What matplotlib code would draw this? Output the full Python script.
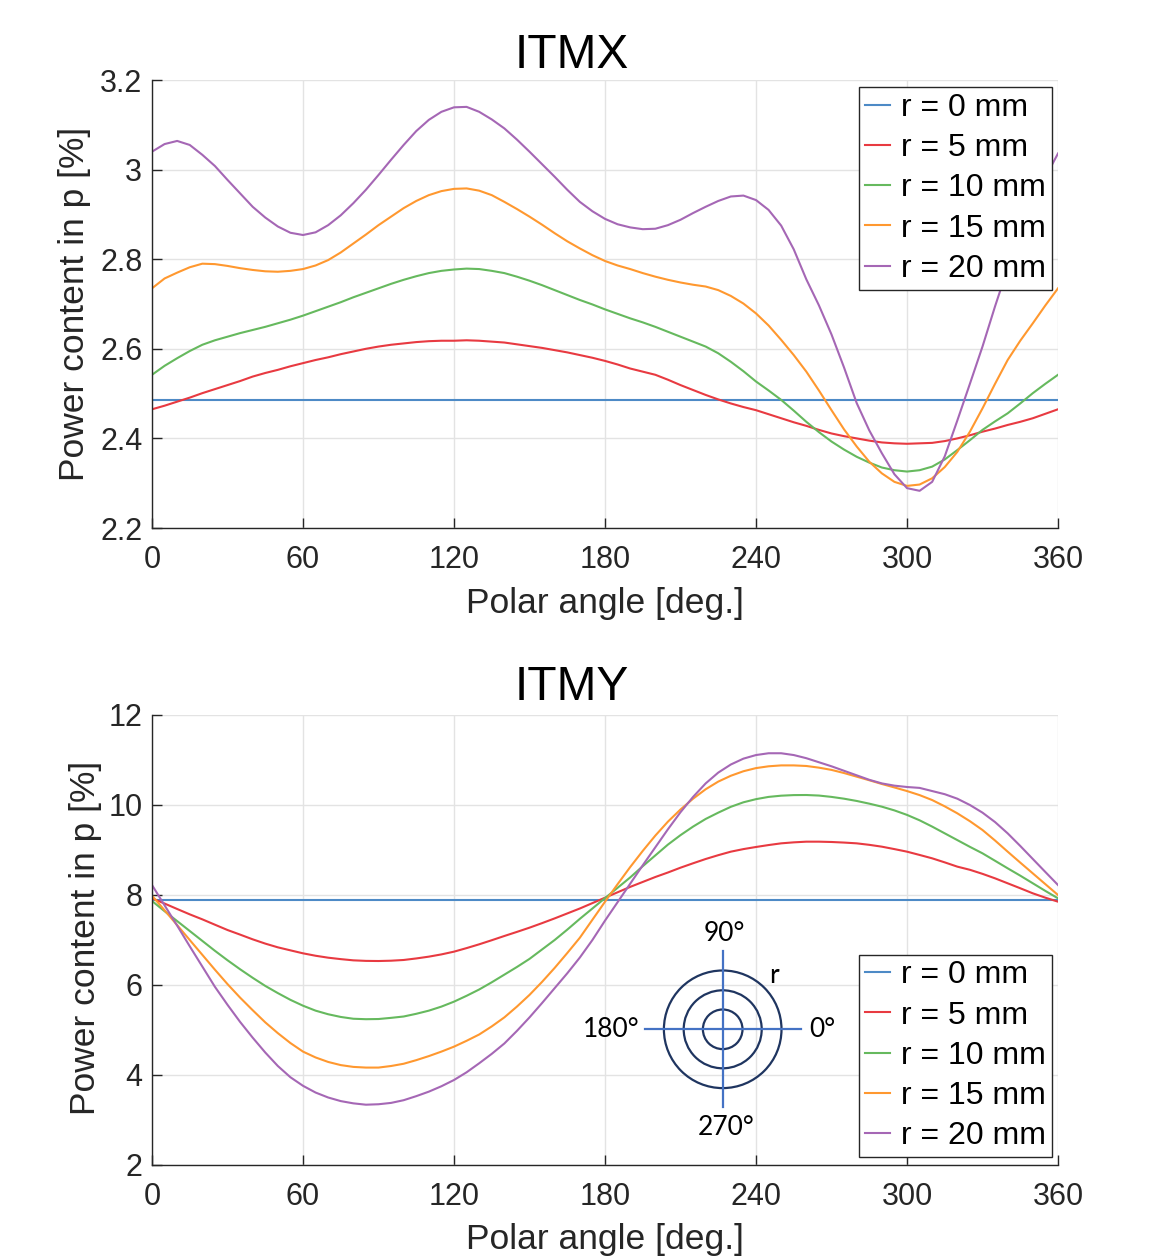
import matplotlib
matplotlib.use("Agg")
import matplotlib.pyplot as plt
from matplotlib.patches import Circle
from matplotlib.ticker import FuncFormatter

plt.rcParams['font.family'] = ['Liberation Sans', 'DejaVu Sans']

angles = list(range(0, 361, 5))
labels = ["r = 0 mm", "r = 5 mm", "r = 10 mm", "r = 15 mm", "r = 20 mm"]
colors = ['#4d8ac6', '#e83a41', '#66b95e', '#ff982f', '#a567b5']

# ITMX (values every 5 deg)
itmx_r0 = [2.486] * 73
itmx_r5 = [2.465, 2.473, 2.482, 2.491, 2.501, 2.510, 2.519, 2.528, 2.538, 2.546,
           2.553, 2.561, 2.568, 2.575, 2.581, 2.588, 2.594, 2.600, 2.605, 2.609,
           2.612, 2.615, 2.617, 2.618, 2.618, 2.619, 2.618, 2.616, 2.614, 2.610,
           2.606, 2.602, 2.597, 2.592, 2.586, 2.580, 2.573, 2.565, 2.556, 2.549,
           2.542, 2.531, 2.519, 2.508, 2.497, 2.487, 2.478, 2.470, 2.463, 2.454,
           2.445, 2.436, 2.428, 2.419, 2.411, 2.405, 2.400, 2.395, 2.391, 2.389,
           2.388, 2.389, 2.390, 2.394, 2.400, 2.407, 2.415, 2.422, 2.430, 2.437,
           2.445, 2.455, 2.465]
itmx_r10 = [2.542, 2.562, 2.579, 2.595, 2.609, 2.619, 2.627, 2.635, 2.642, 2.649,
            2.657, 2.665, 2.674, 2.684, 2.694, 2.704, 2.715, 2.725, 2.735, 2.745,
            2.754, 2.762, 2.769, 2.774, 2.777, 2.779, 2.778, 2.774, 2.769, 2.761,
            2.752, 2.742, 2.731, 2.720, 2.709, 2.699, 2.688, 2.678, 2.668, 2.659,
            2.649, 2.638, 2.627, 2.616, 2.605, 2.590, 2.571, 2.550, 2.527, 2.507,
            2.486, 2.462, 2.437, 2.414, 2.393, 2.375, 2.359, 2.346, 2.335, 2.329,
            2.326, 2.329, 2.337, 2.353, 2.374, 2.396, 2.419, 2.438, 2.456, 2.478,
            2.501, 2.522, 2.542]
itmx_r15 = [2.735, 2.757, 2.770, 2.782, 2.790, 2.789, 2.785, 2.780, 2.776, 2.773,
            2.772, 2.774, 2.778, 2.786, 2.798, 2.815, 2.835, 2.855, 2.876, 2.895,
            2.914, 2.930, 2.943, 2.952, 2.957, 2.958, 2.953, 2.943, 2.928, 2.912,
            2.895, 2.877, 2.858, 2.840, 2.824, 2.809, 2.796, 2.786, 2.778, 2.769,
            2.761, 2.754, 2.748, 2.743, 2.739, 2.731, 2.718, 2.701, 2.679, 2.652,
            2.620, 2.586, 2.549, 2.507, 2.463, 2.420, 2.382, 2.348, 2.322, 2.303,
            2.294, 2.297, 2.311, 2.336, 2.370, 2.415, 2.467, 2.522, 2.575, 2.618,
            2.657, 2.697, 2.735]
itmx_r20 = [3.040, 3.057, 3.064, 3.055, 3.033, 3.008, 2.977, 2.947, 2.917, 2.893,
            2.873, 2.859, 2.854, 2.860, 2.876, 2.898, 2.925, 2.955, 2.988, 3.022,
            3.055, 3.086, 3.111, 3.129, 3.139, 3.140, 3.129, 3.112, 3.092, 3.067,
            3.040, 3.012, 2.984, 2.955, 2.928, 2.907, 2.890, 2.878, 2.871, 2.867,
            2.868, 2.876, 2.888, 2.903, 2.917, 2.930, 2.940, 2.942, 2.932, 2.910,
            2.875, 2.822, 2.755, 2.697, 2.632, 2.558, 2.479, 2.418, 2.367, 2.320,
            2.289, 2.283, 2.303, 2.360, 2.440, 2.522, 2.605, 2.695, 2.780, 2.858,
            2.925, 2.983, 3.036]

# ITMY (values every 5 deg)
itmy_r0 = [7.90] * 73
itmy_r5 = [7.926, 7.810, 7.689, 7.570, 7.459, 7.340, 7.222, 7.120, 7.015, 6.920,
           6.837, 6.770, 6.704, 6.650, 6.607, 6.575, 6.548, 6.536, 6.533, 6.540,
           6.556, 6.590, 6.630, 6.680, 6.741, 6.820, 6.904, 6.995, 7.089, 7.180,
           7.274, 7.375, 7.480, 7.590, 7.700, 7.820, 7.940, 8.060, 8.180, 8.290,
           8.400, 8.500, 8.607, 8.705, 8.800, 8.885, 8.963, 9.020, 9.067, 9.110,
           9.148, 9.170, 9.185, 9.185, 9.178, 9.165, 9.148, 9.115, 9.074, 9.020,
           8.963, 8.890, 8.815, 8.725, 8.630, 8.560, 8.470, 8.370, 8.260, 8.150,
           8.037, 7.940, 7.852]
itmy_r10 = [7.867, 7.640, 7.420, 7.200, 6.980, 6.760, 6.550, 6.350, 6.160, 5.980,
            5.820, 5.670, 5.540, 5.430, 5.350, 5.290, 5.250, 5.240, 5.244, 5.270,
            5.300, 5.360, 5.430, 5.520, 5.630, 5.760, 5.900, 6.060, 6.230, 6.400,
            6.580, 6.790, 7.000, 7.230, 7.470, 7.700, 7.930, 8.160, 8.390, 8.640,
            8.880, 9.120, 9.330, 9.520, 9.690, 9.830, 9.960, 10.060, 10.130, 10.180,
            10.207, 10.220, 10.222, 10.210, 10.180, 10.140, 10.090, 10.030, 9.963, 9.880,
            9.780, 9.660, 9.520, 9.370, 9.220, 9.070, 8.926, 8.760, 8.593, 8.430,
            8.260, 8.090, 7.926]
itmy_r15 = [7.985, 7.660, 7.330, 7.000, 6.670, 6.340, 6.020, 5.720, 5.440, 5.170,
            4.930, 4.710, 4.520, 4.390, 4.290, 4.220, 4.180, 4.165, 4.165, 4.200,
            4.250, 4.330, 4.420, 4.520, 4.630, 4.760, 4.900, 5.080, 5.280, 5.520,
            5.780, 6.070, 6.380, 6.710, 7.050, 7.450, 7.850, 8.240, 8.620, 8.980,
            9.320, 9.630, 9.900, 10.140, 10.350, 10.520, 10.650, 10.750, 10.820, 10.860,
            10.880, 10.880, 10.867, 10.830, 10.780, 10.710, 10.630, 10.550, 10.467, 10.390,
            10.310, 10.220, 10.110, 9.970, 9.815, 9.640, 9.444, 9.210, 8.963, 8.720,
            8.480, 8.240, 8.000]
itmy_r20 = [8.222, 7.770, 7.320, 6.860, 6.410, 5.960, 5.560, 5.180, 4.830, 4.500,
            4.200, 3.950, 3.760, 3.610, 3.500, 3.420, 3.370, 3.340, 3.350, 3.380,
            3.440, 3.530, 3.630, 3.750, 3.889, 4.060, 4.260, 4.470, 4.700, 4.980,
            5.280, 5.600, 5.930, 6.260, 6.610, 7.000, 7.430, 7.840, 8.250, 8.660,
            9.060, 9.460, 9.840, 10.180, 10.480, 10.720, 10.900, 11.030, 11.110, 11.150,
            11.150, 11.110, 11.040, 10.950, 10.860, 10.760, 10.660, 10.560, 10.480, 10.430,
            10.400, 10.380, 10.310, 10.240, 10.140, 10.000, 9.830, 9.620, 9.370, 9.090,
            8.800, 8.510, 8.222]

xticks = [0, 60, 120, 180, 240, 300, 360]
itmx_yticks = [2.2, 2.4, 2.6, 2.8, 3.0, 3.2]
itmy_yticks = [2, 4, 6, 8, 10, 12]

W, H = 1170, 1257
fig = plt.figure(figsize=(W / 100, H / 100), dpi=100)
ax1 = fig.add_axes([152 / W, 1 - 528 / H, 906 / W, 448 / H])
ax2 = fig.add_axes([152 / W, 1 - 1165 / H, 906 / W, 450 / H])

dark = '#262626'

def style(ax, yticks, ylim):
    ax.set_xlim(0, 360)
    ax.set_ylim(*ylim)
    ax.set_xticks(xticks)
    ax.set_yticks(yticks)
    ax.yaxis.set_major_formatter(FuncFormatter(lambda v, p: '%g' % v))
    ax.grid(True, color='#e3e3e3', linewidth=1.0)
    ax.set_axisbelow(True)
    for s in ['top', 'right']:
        ax.spines[s].set_visible(False)
    for s in ['left', 'bottom']:
        ax.spines[s].set_color(dark)
        ax.spines[s].set_linewidth(1.0)
    ax.tick_params(direction='in', length=7, width=1, color=dark,
                   labelsize=22, labelcolor=dark, top=False, right=False)
    ax.tick_params(axis='x', pad=12.3)
    ax.tick_params(axis='y', pad=7)

series_x = [itmx_r0, itmx_r5, itmx_r10, itmx_r15, itmx_r20]
series_y = [itmy_r0, itmy_r5, itmy_r10, itmy_r15, itmy_r20]

for vals, c, lab in zip(series_x, colors, labels):
    ax1.plot(angles, vals, color=c, lw=1.5, label=lab)
for vals, c, lab in zip(series_y, colors, labels):
    ax2.plot(angles, vals, color=c, lw=1.5, label=lab)

style(ax1, itmx_yticks, (2.2, 3.2))
style(ax2, itmy_yticks, (2, 12))

leg_kw = dict(fontsize=23, frameon=True, fancybox=False, framealpha=1,
              edgecolor=dark, handlelength=0.8, handletextpad=0.35,
              borderpad=0.18, labelspacing=0.32, borderaxespad=0)
l1 = ax1.legend(loc='upper right', bbox_to_anchor=(0.9934, 0.984), **leg_kw)
l2 = ax2.legend(loc='lower right', bbox_to_anchor=(0.9934, 0.0178), **leg_kw)
for l in (l1, l2):
    l.get_frame().set_linewidth(1.0)

# titles and labels
fig.text(572 / W, 1 - 68 / H, 'ITMX', ha='center', va='baseline', fontsize=34.5, color='black')
fig.text(572 / W, 1 - 700 / H, 'ITMY', ha='center', va='baseline', fontsize=34.5, color='black')
fig.text(605 / W, 1 - 613 / H, 'Polar angle [deg.]', ha='center', va='baseline', fontsize=25.5, color=dark)
fig.text(605 / W, 1 - 1249 / H, 'Polar angle [deg.]', ha='center', va='baseline', fontsize=25.5, color=dark)
fig.text(75 / W, 1 - 304 / H, 'Power content in p [%]', ha='center', va='center',
         rotation=90, fontsize=25.5, color=dark)
fig.text(86 / W, 1 - 938 / H, 'Power content in p [%]', ha='center', va='center',
         rotation=90, fontsize=25.5, color=dark)

# inset polar diagram
cx, cy, half = 722.7, 1029.3, 100
axi = fig.add_axes([(cx - half) / W, 1 - (cy + half) / H, 2 * half / W, 2 * half / H])
axi.set_xlim(-half, half)
axi.set_ylim(-half, half)
axi.axis('off')
axi.patch.set_alpha(0)
for rr in (19.8, 39.0, 58.8):
    axi.add_patch(Circle((0, 0), rr, fill=False, edgecolor='#1f3560', lw=1.6))
axi.plot([-78, 78], [0, 0], color='#4472c4', lw=1.6)
axi.plot([0, 0], [-78, 78], color='#4472c4', lw=1.6)
ifont = dict(family=['Lato', 'DejaVu Sans'], fontsize=19, color='black', clip_on=False)
axi.text(2, 96, '90°', ha='center', va='center', **ifont)
axi.text(-111, 0, '180°', ha='center', va='center', **ifont)
axi.text(100, 0, '0°', ha='center', va='center', **ifont)
axi.text(3, -98, '270°', ha='center', va='center', **ifont)
axi.text(51, 54, 'r', ha='center', va='center', **ifont)

fig.savefig('out.png', dpi=100, facecolor='white')
